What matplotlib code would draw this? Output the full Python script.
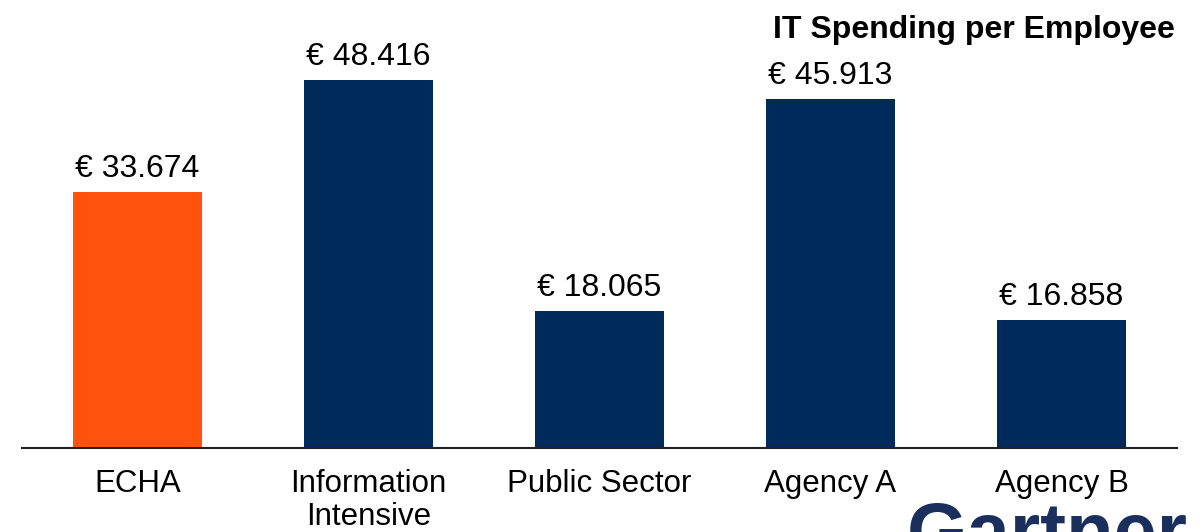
import matplotlib
matplotlib.use("Agg")
import matplotlib.pyplot as plt

categories = ["ECHA", "Information\nIntensive", "Public Sector", "Agency A", "Agency B"]
values = [33674, 48416, 18065, 45913, 16858]
value_labels = ["€ 33.674", "€ 48.416", "€ 18.065", "€ 45.913", "€ 16.858"]
colors = ["#FF530D", "#002A5A", "#002A5A", "#002A5A", "#002A5A"]
title = "IT Spending per Employee"
logo = "Gartner"

plt.rcParams['font.family'] = ['Liberation Sans', 'DejaVu Sans']

fig = plt.figure(figsize=(12.04, 5.32), dpi=100)
ax = fig.add_axes([22/1204, (532-448)/532, (1177-22)/1204, 448/532])
x = list(range(len(categories)))
ax.bar(x, values, width=0.558, color=colors, zorder=2)
ax.set_xlim(-0.5, 4.5)
ax.set_ylim(0, 59000)
for xi, v, lab in zip(x, values, value_labels):
    ax.annotate(lab, (xi, v), xytext=(0, 8), textcoords='offset pixels',
                ha='center', va='bottom', fontsize=23, color='black')
ax.set_xticks(x)
ax.set_xticklabels(categories, fontsize=22.5, linespacing=1.15)
ax.tick_params(axis='x', length=0, pad=15)
ax.set_yticks([])
for s in ['top', 'right', 'left']:
    ax.spines[s].set_visible(False)
ax.spines['bottom'].set_linewidth(1.5)
ax.spines['bottom'].set_color('#222222')
ax.spines['bottom'].set_zorder(3)

fig.text(1175/1204, (532-38)/532, title, ha='right', va='baseline',
         fontsize=23, fontweight='bold', color='black')
fig.text(907/1204, (532-557)/532, logo, ha='left', va='baseline',
         fontsize=56, fontweight='bold', color='#1B2F5C')

fig.savefig("out.png", dpi=100)
